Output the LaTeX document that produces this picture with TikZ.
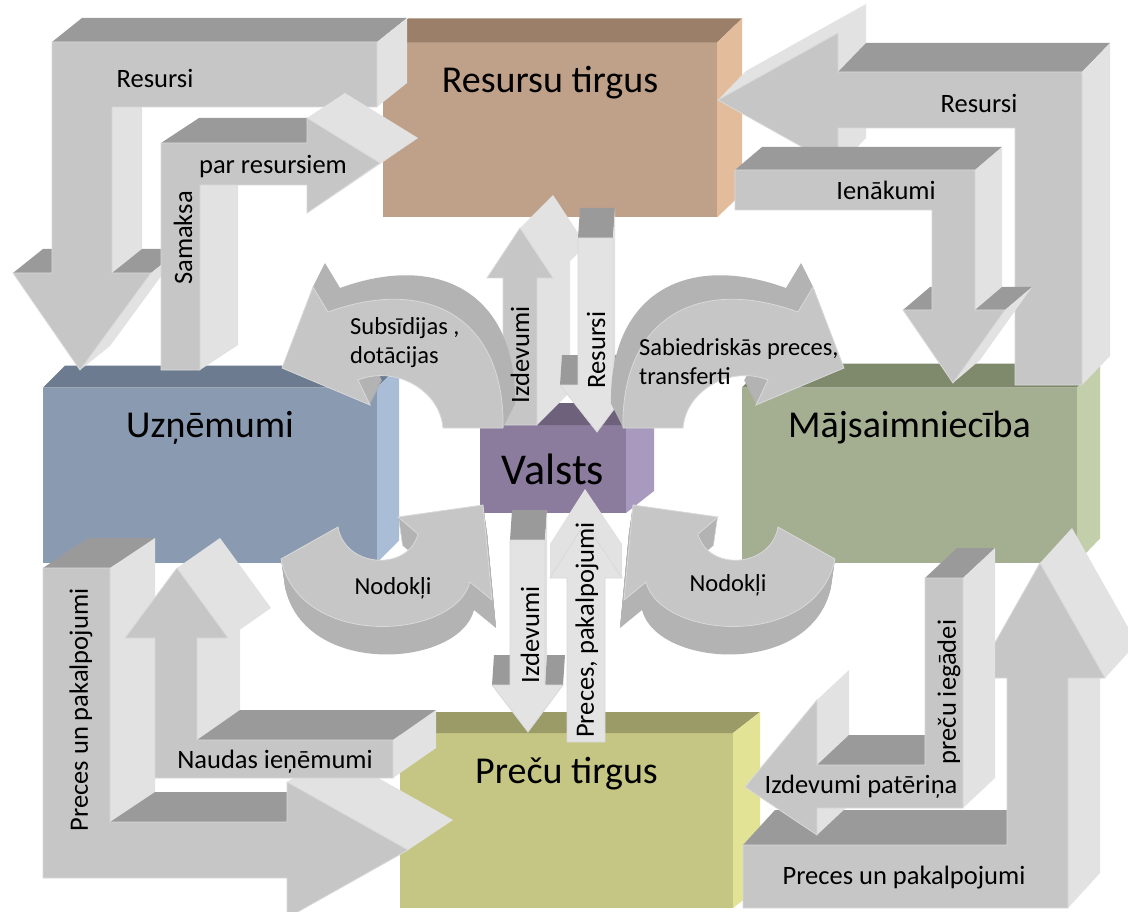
\documentclass[tikz,border=0pt]{standalone}
\usepackage{fontspec}
\setmainfont{Carlito}
\usetikzlibrary{calc}

\definecolor{arrowfront}{HTML}{C6C6C6}
\definecolor{arrowpale}{HTML}{E3E3E3}
\definecolor{arrowtop}{HTML}{9A9A9A}
\definecolor{arrowside}{HTML}{E2E2E2}
\definecolor{arrowedge}{HTML}{D9D9D9}
\definecolor{bandtone}{HTML}{B3B3B3}
\definecolor{resfront}{HTML}{BFA18A}
\definecolor{restop}{HTML}{9B7F68}
\definecolor{resside}{HTML}{E3BD9B}
\definecolor{firmfront}{HTML}{8A9BB1}
\definecolor{firmtop}{HTML}{6C7B8F}
\definecolor{firmside}{HTML}{A9BDD6}
\definecolor{homefront}{HTML}{A4AE90}
\definecolor{hometop}{HTML}{7F896C}
\definecolor{homeside}{HTML}{C3CFAA}
\definecolor{goodfront}{HTML}{C5C684}
\definecolor{goodtop}{HTML}{9B9B68}
\definecolor{goodside}{HTML}{E3E396}
\definecolor{statefront}{HTML}{8B7B9D}
\definecolor{statetop}{HTML}{6D617C}
\definecolor{stateside}{HTML}{A89ABF}

% top and side face of a block node
\newcommand\boxfaces[5]{%
  \fill[#2] (#1.north west) -- ++(#4,#5) -- ($(#1.north east)+(#4,#5)$) -- (#1.north east) -- cycle;
  \fill[#3] (#1.north east) -- ++(#4,#5) -- ($(#1.south east)+(#4,#5)$) -- (#1.south east) -- cycle;
}

% straight block arrow: [front colour]{depth x}{depth y}{x/y list, clockwise, closed}
\newcommand\blockarrow[4][arrowfront]{%
  \foreach \x/\y [remember=\x as \px (initially 0), remember=\y as \py (initially 0), count=\i] in {#4}{%
    \ifnum\i=1 \xdef\frontpath{(\x,\y)}\else
      \xdef\frontpath{\frontpath -- (\x,\y)}%
      \pgfmathparse{(\y-\py)/100*(#2)-(\x-\px)/100*(#3)}%
      \ifdim\pgfmathresult pt>0.01pt
        \ifdim\y pt=\py pt \def\arrowface{arrowtop}\else\def\arrowface{arrowside}\fi
        \fill[\arrowface] (\px,\py) -- (\x,\y) -- ++(#2,#3) -- ($(\px,\py)+(#2,#3)$) -- cycle;
      \fi
    \fi
  }%
  \filldraw[#1, draw=arrowedge, line width=0.8pt] \frontpath -- cycle;
}

% curved block arrow: {path}{depth x}{depth y}
\newcommand\curvedarrow[3]{%
  \foreach \k in {1,...,24}{\fill[bandtone, shift={(\k*#2/24,\k*#3/24)}] #1;}
  \filldraw[arrowfront, draw=arrowedge, line width=0.8pt] #1;
}

\def\subsidypath{(503,428) .. controls (505,320) and (430,275) .. (328,312) -- (313,287) -- (282,368) -- (370,405) -- (358,380) .. controls (395,365) and (440,390) .. (443,428) -- cycle}
\def\taxpath{(281,559) -- (338,527) .. controls (345,568) and (408,572) .. (418,534) -- (398,517) -- (483,505) -- (492,600) -- (470,582) .. controls (455,640) and (300,650) .. (281,559) -- cycle}

\begin{document}
\begin{tikzpicture}[x=1pt, y=-1pt,
  box_node/.style={rectangle, inner sep=0pt, outer sep=0pt, font=\fontsize{38}{45}\selectfont},
  top_text/.style={text height=50pt, text depth=125pt},
  label_node/.style={inner sep=0pt, font=\fontsize{26.5}{31}\selectfont, align=left},
  curve_label/.style={label_node, font=\fontsize{24.5}{29}\selectfont}]

    \fill[white] (0,0) rectangle (1128,912);
    \useasboundingbox (0,0) rectangle (1128,912);

    % markets and sectors
    \node[box_node, top_text, fill=resfront, minimum width=334pt] (1) at (550,130) {Resursu tirgus};
    \node[box_node, top_text, fill=firmfront, minimum width=334pt] (2) at (210,475) {Uzņēmumi};
    \node[box_node, top_text, fill=homefront, minimum width=335pt] (3) at (909.5,475) {Mājsaimniecība};
    \node[box_node, top_text, fill=goodfront, minimum width=333pt] (4) at (566.5,820.5) {Preču tirgus};
    \node[box_node, fill=statefront, minimum width=146pt, minimum height=88pt, font=\fontsize{44}{50}\selectfont] (5) at (553,469) {Valsts};

    \boxfaces{1}{restop}{resside}{25}{-24}
    \boxfaces{2}{firmtop}{firmside}{22}{-22}
    \boxfaces{3}{hometop}{homeside}{23}{-24}
    \boxfaces{4}{goodtop}{goodside}{27}{-21}
    \boxfaces{5}{statetop}{stateside}{28}{-22}

    % outer flows
    \blockarrow{30}{-24}{52/42, 377/42, 377/107, 112/107, 112/273, 151/273, 80/370, 13/273, 52/273, 52/42}
    \blockarrow{38}{-25}{161/143, 307/143, 307/118, 380/163, 307/213, 307/185, 200/185, 200/370, 161/370, 161/143}
    \blockarrow{28}{-29}{718/100, 838/33, 838/72, 1082/72, 1082/385, 1015/385, 1015/128, 838/128, 838/167, 718/100}
    \blockarrow{27}{-23}{735/170, 975/170, 975/310, 1005/310, 953/383, 903/310, 932/310, 932/210, 735/210, 735/170}
    \blockarrow{45}{-30}{43/568, 110/568, 110/822, 287/822, 287/782, 408/850, 287/918, 287/878, 43/878, 43/568}
    \blockarrow{43}{-30}{177/568, 228/638, 197/638, 197/740, 393/740, 393/778, 155/778, 155/638, 125/638, 177/568}
    \blockarrow{32}{-35}{1040/563, 1105/678, 1068/678, 1068/908, 743/908, 743/845, 1007/845, 1007/678, 975/678, 1040/563}
    \blockarrow{32}{-30}{925/578, 963/578, 963/808, 817/808, 817/835, 745/787, 817/700, 817/765, 925/765, 925/578}

    % flows of the state
    \blockarrow{33}{-33}{520/228, 553/278, 537/278, 537/425, 503/425, 503/278, 487/278, 520/228}
    \blockarrow[arrowpale]{2}{-30}{578/238, 613/238, 613/385, 632/385, 597/432, 560/385, 578/385, 578/238}
    \blockarrow[arrowpale]{2}{-30}{510/540, 545/540, 545/685, 563/685, 528/732, 492/685, 510/685, 510/540}
    \blockarrow[arrowpale]{0}{-34}{585/523, 622/578, 605/578, 605/742, 567/742, 567/578, 550/578, 585/523}

    \curvedarrow{\subsidypath}{12}{-24}
    \begin{scope}[xshift=1126pt, xscale=-1]
        \curvedarrow{\subsidypath}{12}{-24}
    \end{scope}
    \curvedarrow{\taxpath}{4}{28}
    \begin{scope}[xshift=1116pt, xscale=-1]
        \curvedarrow{\taxpath}{4}{28}
    \end{scope}

    % texts on the arrows
    \node[label_node] (6) at (155,78) {Resursi};
    \node[label_node, rotate=90] (7) at (183,238) {Samaksa};
    \node[label_node] (8) at (273,167) {par resursiem};
    \node[label_node] (9) at (979,103) {Resursi};
    \node[label_node] (10) at (886,190) {Ienākumi};
    \node[label_node, rotate=90] (11) at (520,355) {Izdevumi};
    \node[label_node, rotate=90] (12) at (596,350) {Resursi};
    \node[curve_label, anchor=west] (13) at (350,343) {Subsīdijas ,\\dotācijas};
    \node[curve_label, anchor=west] (14) at (639,362) {Sabiedriskās preces,\\transferti};
    \node[curve_label] (15) at (393,588) {Nodokļi};
    \node[curve_label] (16) at (728,585) {Nodokļi};
    \node[label_node, rotate=90] (17) at (530,635) {Izdevumi};
    \node[label_node, rotate=90] (18) at (587,630) {Preces, pakalpojumi};
    \node[label_node, rotate=90] (19) at (81,710) {Preces un pakalpojumi};
    \node[label_node] (20) at (275,762) {Naudas ieņēmumi};
    \node[label_node, rotate=90] (21) at (949,692) {preču iegādei};
    \node[label_node] (22) at (861,787) {Izdevumi patēriņa};
    \node[label_node] (23) at (904,878) {Preces un pakalpojumi};

\end{tikzpicture}
\end{document}
